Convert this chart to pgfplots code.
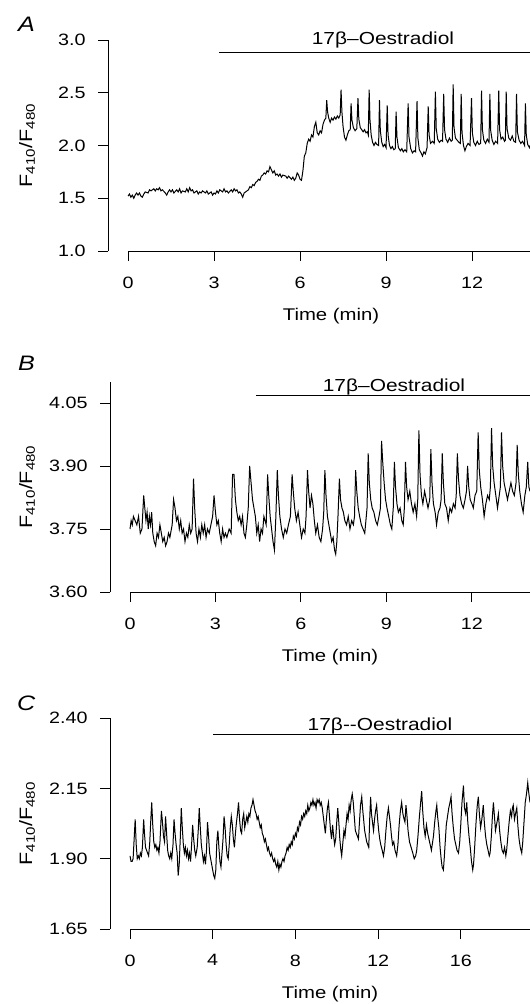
\documentclass[border=0pt]{standalone}
\usepackage{pgfplots}
\pgfplotsset{compat=1.18}
\usetikzlibrary{calc}
\usepackage{fontspec}
\setmainfont{Liberation Sans}[FakeStretch=1.2]

\pgfplotsset{
  panel/.style={
    scale only axis,
    anchor=south west,
    axis lines=left,
    axis line style={-, line width=0.9bp, black},
    x axis line style={draw=none},
    tick align=outside,
    major tick length=10bp,
    tick style={line width=0.9bp, black},
    minor tick num=0,
    clip=false,
    /pgf/number format/assume math mode=true,
    tick label style={font=\fontsize{16.5}{19}\selectfont},
    xticklabel style={yshift=-12bp},
    yticklabel style={xshift=-9bp},
    label style={font=\fontsize{17}{20}\selectfont},
    ylabel style={font=\fontsize{18}{21}\selectfont},
    trace/.style={black, line width=1bp, mark=none},
    bar/.style={black, line width=1.1bp, mark=none},
  },
}

\begin{document}
\begin{tikzpicture}
\path[use as bounding box] (0,0) rectangle (530bp,-1004bp);
\fill[white] (0,0) rectangle (530bp,-1004bp);

% ---------------- Panel A ----------------
\begin{axis}[panel,
  at={(108bp,-251bp)}, width=422bp, height=211bp,
  xmin=-0.698, xmax=14.02, ymin=1, ymax=3,
  xtick={0,3,6,9,12}, ytick={1,1.5,2,2.5,3},
  yticklabel style={/pgf/number format/.cd,fixed,fixed zerofill,precision=1},
  xlabel={Time (min)},
  xlabel style={at={(axis cs:7.08,1)}, anchor=base, yshift=-69bp},
  ylabel={F\textsubscript{410}/F\textsubscript{480}},
  ylabel style={at={($(rel axis cs:0,0.5)+(-81bp,0)$)}, anchor=center},
]
\draw[line width=0.9bp] (axis cs:0,1) -- (axis cs:14.02,1);
\addplot[bar] coordinates {(3.17,2.88) (14.02,2.88)};
\addplot[trace] coordinates {
(0.00,1.52) (0.05,1.54) (0.10,1.51) (0.15,1.53) (0.20,1.50) (0.25,1.53) (0.30,1.55) (0.35,1.53) (0.40,1.55) (0.45,1.52)
(0.50,1.51) (0.55,1.54) (0.60,1.56) (0.70,1.55) (0.75,1.58) (0.80,1.57) (0.90,1.59) (0.95,1.57) (1.00,1.59) (1.05,1.58)
(1.10,1.60) (1.15,1.57) (1.20,1.58) (1.30,1.55) (1.35,1.53) (1.40,1.56) (1.45,1.58) (1.50,1.56) (1.55,1.58) (1.60,1.55)
(1.70,1.58) (1.75,1.56) (1.80,1.59) (1.85,1.55) (1.90,1.57) (2.00,1.56) (2.05,1.59) (2.10,1.56) (2.15,1.60) (2.20,1.57)
(2.25,1.58) (2.30,1.55) (2.40,1.57) (2.45,1.54) (2.50,1.56) (2.55,1.55) (2.60,1.57) (2.70,1.55) (2.75,1.57) (2.80,1.54)
(2.90,1.56) (2.95,1.53) (3.00,1.55) (3.05,1.54) (3.10,1.57) (3.15,1.55) (3.20,1.58) (3.30,1.56) (3.35,1.59) (3.40,1.56)
(3.45,1.57) (3.50,1.55) (3.60,1.58) (3.65,1.56) (3.70,1.59) (3.75,1.57) (3.80,1.58) (3.85,1.55) (3.90,1.56) (3.95,1.54)
(4.00,1.51) (4.05,1.55) (4.10,1.56) (4.20,1.58) (4.25,1.61) (4.30,1.60) (4.35,1.63) (4.40,1.62) (4.45,1.65) (4.50,1.66)
(4.55,1.68) (4.60,1.67) (4.65,1.71) (4.70,1.72) (4.75,1.74) (4.80,1.73) (4.85,1.76) (4.90,1.75) (4.95,1.80) (5.00,1.77)
(5.05,1.74) (5.10,1.76) (5.15,1.72) (5.20,1.73) (5.25,1.71) (5.30,1.73) (5.35,1.70) (5.40,1.72) (5.50,1.71) (5.55,1.69)
(5.60,1.71) (5.70,1.68) (5.75,1.70) (5.80,1.67) (5.85,1.69) (5.90,1.74) (5.95,1.72) (6.00,1.68) (6.05,1.67) (6.10,1.76)
(6.15,1.90) (6.20,1.93) (6.25,2.02) (6.30,2.06) (6.35,2.04) (6.40,2.10) (6.45,2.08) (6.50,2.18) (6.55,2.22) (6.60,2.12)
(6.65,2.10) (6.70,2.14) (6.75,2.12) (6.80,2.20) (6.85,2.24) (6.90,2.26) (6.93,2.43) (6.96,2.32) (7.00,2.26) (7.05,2.22)
(7.10,2.26) (7.15,2.24) (7.20,2.27) (7.25,2.25) (7.30,2.28) (7.35,2.26) (7.40,2.29) (7.43,2.53) (7.46,2.32) (7.50,2.18)
(7.55,2.08) (7.60,2.05) (7.65,2.10) (7.70,2.14) (7.75,2.15) (7.78,2.40) (7.81,2.24) (7.86,2.17) (7.92,2.14) (7.98,2.16)
(8.02,2.45) (8.05,2.25) (8.10,2.17) (8.15,2.15) (8.20,2.13) (8.25,2.15) (8.30,2.12) (8.35,2.13) (8.38,2.10) (8.41,2.53)
(8.44,2.24) (8.48,2.10) (8.53,2.03) (8.58,2.00) (8.63,2.03) (8.68,2.01) (8.74,2.00) (8.77,2.43) (8.80,2.14) (8.85,2.03)
(8.90,1.99) (8.95,2.01) (9.00,1.98) (9.04,2.38) (9.07,2.10) (9.12,2.00) (9.17,1.97) (9.22,1.99) (9.27,1.96) (9.32,1.97)
(9.35,2.32) (9.38,2.08) (9.43,1.98) (9.50,1.95) (9.55,1.97) (9.60,1.94) (9.66,1.96) (9.72,1.94) (9.77,2.40) (9.80,2.08)
(9.86,1.97) (9.92,1.93) (9.98,1.95) (10.03,1.94) (10.08,2.42) (10.11,2.07) (10.16,1.96) (10.22,1.93) (10.27,1.90) (10.32,1.94)
(10.37,1.92) (10.43,1.98) (10.47,2.37) (10.50,2.10) (10.55,2.02) (10.62,2.04) (10.68,2.02) (10.72,2.51) (10.75,2.16) (10.80,2.06)
(10.86,2.03) (10.92,2.05) (10.97,2.04) (11.01,2.49) (11.04,2.15) (11.09,2.06) (11.15,2.03) (11.21,2.07) (11.27,2.04) (11.31,2.05)
(11.34,2.58) (11.37,2.17) (11.42,2.07) (11.48,2.05) (11.54,2.03) (11.59,2.02) (11.62,2.49) (11.65,2.12) (11.70,2.00) (11.75,1.95)
(11.80,1.99) (11.86,2.02) (11.93,2.00) (11.98,2.45) (12.01,2.12) (12.06,2.03) (12.12,2.00) (12.18,2.04) (12.24,2.01) (12.30,2.02)
(12.33,2.52) (12.36,2.15) (12.41,2.05) (12.47,2.02) (12.53,2.06) (12.59,2.03) (12.62,2.49) (12.65,2.14) (12.70,2.05) (12.76,2.01)
(12.82,2.04) (12.89,2.02) (12.93,2.52) (12.96,2.15) (13.01,2.06) (13.07,2.08) (13.13,2.04) (13.16,2.05) (13.19,2.51) (13.22,2.16)
(13.28,2.07) (13.34,2.05) (13.40,2.09) (13.46,2.04) (13.52,2.03) (13.55,2.49) (13.58,2.13) (13.64,2.05) (13.70,2.02) (13.76,2.04)
(13.83,2.00) (13.86,2.40) (13.89,2.10) (13.94,2.01) (14.00,1.98) (14.02,2.00)
};
\end{axis}

% ---------------- Panel B ----------------
\begin{axis}[panel,
  at={(110bp,-592bp)}, width=420bp, height=210bp,
  xmin=-0.702, xmax=14.04, ymin=3.60, ymax=4.10,
  xtick={0,3,6,9,12}, ytick={3.60,3.75,3.90,4.05},
  yticklabel style={/pgf/number format/.cd,fixed,fixed zerofill,precision=2},
  xlabel={Time (min)},
  xlabel style={at={(axis cs:7.02,3.60)}, anchor=base, yshift=-69bp},
  ylabel={F\textsubscript{410}/F\textsubscript{480}},
  ylabel style={at={($(rel axis cs:0,0.5)+(-83bp,0)$)}, anchor=center},
]
\draw[line width=0.9bp] (axis cs:0,3.60) -- (axis cs:14.04,3.60);
\addplot[bar] coordinates {(4.42,4.067) (14.04,4.067)};
\addplot[trace] coordinates {
(0.00,3.75) (0.04,3.77) (0.08,3.76) (0.12,3.78) (0.18,3.77) (0.24,3.76) (0.30,3.78) (0.36,3.74) (0.42,3.75) (0.48,3.83)
(0.52,3.80) (0.56,3.77) (0.60,3.79) (0.64,3.75) (0.68,3.78) (0.72,3.76) (0.76,3.79) (0.80,3.74) (0.85,3.72) (0.90,3.71)
(0.95,3.74) (1.00,3.73) (1.05,3.76) (1.10,3.74) (1.15,3.72) (1.20,3.73) (1.25,3.71) (1.30,3.72) (1.35,3.74) (1.40,3.73)
(1.48,3.76) (1.53,3.82) (1.58,3.80) (1.63,3.77) (1.68,3.78) (1.73,3.75) (1.78,3.77) (1.83,3.74) (1.88,3.75) (1.93,3.72)
(1.98,3.74) (2.03,3.73) (2.08,3.76) (2.13,3.74) (2.18,3.75) (2.23,3.87) (2.27,3.80) (2.32,3.74) (2.37,3.72) (2.42,3.75)
(2.47,3.73) (2.52,3.76) (2.57,3.74) (2.62,3.76) (2.67,3.73) (2.72,3.75) (2.78,3.74) (2.84,3.76) (2.90,3.78) (2.95,3.83)
(3.00,3.79) (3.05,3.76) (3.10,3.77) (3.15,3.74) (3.20,3.72) (3.25,3.75) (3.30,3.73) (3.35,3.74) (3.40,3.73) (3.48,3.75)
(3.55,3.74) (3.60,3.88) (3.65,3.88) (3.70,3.82) (3.75,3.79) (3.80,3.77) (3.85,3.78) (3.90,3.76) (3.95,3.78) (4.00,3.74)
(4.05,3.73) (4.10,3.76) (4.15,3.80) (4.20,3.90) (4.25,3.86) (4.30,3.82) (4.35,3.80) (4.40,3.78) (4.45,3.74) (4.50,3.76)
(4.55,3.72) (4.60,3.75) (4.65,3.74) (4.70,3.78) (4.78,3.76) (4.83,3.88) (4.87,3.83) (4.92,3.78) (4.97,3.75) (5.02,3.72)
(5.07,3.70) (5.12,3.78) (5.17,3.89) (5.21,3.83) (5.26,3.78) (5.32,3.75) (5.38,3.73) (5.44,3.75) (5.50,3.74) (5.56,3.76)
(5.63,3.78) (5.69,3.88) (5.73,3.84) (5.78,3.80) (5.84,3.77) (5.90,3.79) (5.96,3.76) (6.02,3.73) (6.08,3.75) (6.14,3.74)
(6.18,3.78) (6.23,3.89) (6.27,3.84) (6.32,3.80) (6.37,3.83) (6.42,3.81) (6.47,3.77) (6.52,3.74) (6.58,3.76) (6.64,3.73)
(6.70,3.72) (6.76,3.75) (6.80,3.79) (6.84,3.89) (6.88,3.83) (6.93,3.78) (6.98,3.76) (7.03,3.74) (7.08,3.72) (7.13,3.73)
(7.18,3.70) (7.22,3.69) (7.26,3.72) (7.30,3.78) (7.35,3.87) (7.39,3.82) (7.44,3.80) (7.49,3.79) (7.54,3.77) (7.60,3.76)
(7.66,3.78) (7.72,3.75) (7.78,3.77) (7.84,3.76) (7.88,3.78) (7.92,3.89) (7.96,3.84) (8.01,3.80) (8.06,3.78) (8.12,3.76)
(8.18,3.75) (8.24,3.74) (8.28,3.77) (8.32,3.80) (8.36,3.93) (8.40,3.86) (8.45,3.82) (8.50,3.80) (8.56,3.79) (8.62,3.77)
(8.68,3.76) (8.74,3.78) (8.79,3.80) (8.83,3.96) (8.87,3.91) (8.92,3.86) (8.97,3.82) (9.02,3.80) (9.08,3.78) (9.14,3.76)
(9.19,3.75) (9.24,3.80) (9.28,3.91) (9.32,3.85) (9.37,3.81) (9.42,3.79) (9.48,3.80) (9.54,3.77) (9.59,3.76) (9.63,3.80)
(9.67,3.91) (9.71,3.85) (9.76,3.82) (9.82,3.84) (9.88,3.81) (9.94,3.79) (10.00,3.81) (10.06,3.78) (10.10,3.82) (10.14,3.985)
(10.18,3.88) (10.23,3.83) (10.28,3.81) (10.34,3.84) (10.40,3.82) (10.46,3.80) (10.52,3.82) (10.56,3.94) (10.60,3.86) (10.65,3.81)
(10.71,3.79) (10.76,3.76) (10.82,3.79) (10.88,3.80) (10.92,3.82) (10.96,3.93) (11.00,3.86) (11.05,3.81) (11.11,3.80) (11.17,3.77)
(11.23,3.80) (11.29,3.79) (11.35,3.81) (11.41,3.80) (11.45,3.83) (11.49,3.93) (11.53,3.87) (11.58,3.83) (11.64,3.81) (11.70,3.80)
(11.76,3.82) (11.81,3.84) (11.85,3.90) (11.89,3.85) (11.94,3.82) (12.00,3.81) (12.05,3.80) (12.11,3.83) (12.17,3.84) (12.22,3.98)
(12.26,3.89) (12.31,3.85) (12.37,3.82) (12.43,3.78) (12.49,3.81) (12.55,3.83) (12.61,3.82) (12.65,3.85) (12.69,3.99) (12.73,3.90)
(12.78,3.86) (12.84,3.83) (12.90,3.80) (12.96,3.83) (13.00,3.85) (13.04,3.98) (13.08,3.90) (13.13,3.86) (13.19,3.84) (13.25,3.82)
(13.31,3.84) (13.37,3.86) (13.43,3.84) (13.49,3.83) (13.55,3.86) (13.59,3.95) (13.63,3.88) (13.68,3.84) (13.74,3.81) (13.80,3.79)
(13.86,3.83) (13.91,3.85) (13.96,3.91) (14.00,3.85) (14.04,3.84)
};
\end{axis}

% ---------------- Panel C ----------------
\begin{axis}[panel,
  at={(110bp,-929bp)}, width=420bp, height=211bp,
  xmin=-0.968, xmax=19.35, ymin=1.65, ymax=2.40,
  xtick={0,4,8,12,16}, ytick={1.65,1.90,2.15,2.40},
  yticklabel style={/pgf/number format/.cd,fixed,fixed zerofill,precision=2},
  xlabel={Time (min)},
  xlabel style={at={(axis cs:9.68,1.65)}, anchor=base, yshift=-69bp},
  ylabel={F\textsubscript{410}/F\textsubscript{480}},
  ylabel style={at={($(rel axis cs:0,0.5)+(-83bp,0)$)}, anchor=center},
]
\draw[line width=0.9bp] (axis cs:0,1.65) -- (axis cs:19.35,1.65);
\addplot[bar] coordinates {(4.03,2.34) (19.35,2.34)};
\addplot[trace] coordinates {
(0.00,1.91) (0.05,1.89) (0.10,1.89) (0.15,1.90) (0.20,1.97) (0.25,2.04) (0.30,1.95) (0.35,1.90) (0.40,1.91) (0.45,1.90)
(0.50,1.92) (0.55,1.91) (0.60,1.94) (0.66,2.04) (0.70,1.99) (0.75,1.94) (0.80,1.93) (0.85,1.92) (0.90,1.91) (0.95,1.95)
(1.00,2.03) (1.05,2.10) (1.10,2.02) (1.15,1.96) (1.20,1.94) (1.25,1.95) (1.30,1.93) (1.35,1.94) (1.40,1.92) (1.45,1.96)
(1.52,2.07) (1.57,2.03) (1.62,1.98) (1.67,1.96) (1.72,2.05) (1.77,1.99) (1.82,1.93) (1.87,1.91) (1.92,1.90) (1.97,1.92)
(2.02,1.90) (2.08,1.95) (2.13,2.04) (2.18,1.99) (2.23,1.95) (2.28,1.92) (2.33,1.84) (2.38,1.88) (2.43,1.97) (2.48,2.08)
(2.53,2.01) (2.58,1.95) (2.63,1.92) (2.68,1.94) (2.73,1.91) (2.78,1.93) (2.83,1.90) (2.88,1.92) (2.93,1.89) (2.98,1.95)
(3.03,2.02) (3.08,1.97) (3.13,1.93) (3.18,1.91) (3.25,1.94) (3.30,2.00) (3.35,2.08) (3.40,2.01) (3.45,1.95) (3.50,1.92)
(3.55,1.89) (3.60,1.91) (3.65,1.88) (3.70,1.93) (3.75,2.03) (3.80,1.98) (3.85,1.92) (3.90,1.90) (3.95,1.88) (4.00,1.86)
(4.05,1.84) (4.10,1.83) (4.15,1.86) (4.20,1.96) (4.25,2.00) (4.30,1.94) (4.35,1.89) (4.40,1.87) (4.45,1.92) (4.50,1.97)
(4.55,2.05) (4.60,2.01) (4.65,1.95) (4.70,1.91) (4.75,1.90) (4.80,1.95) (4.85,2.01) (4.90,2.05) (4.95,2.02) (5.00,1.97)
(5.05,1.94) (5.10,1.99) (5.15,2.03) (5.20,2.06) (5.25,2.10) (5.30,2.04) (5.35,2.00) (5.40,1.99) (5.45,2.04) (5.50,2.06)
(5.55,2.01) (5.60,2.03) (5.65,2.05) (5.70,2.03) (5.75,2.06) (5.80,2.05) (5.85,2.08) (5.90,2.09) (5.95,2.11) (6.00,2.09)
(6.05,2.07) (6.10,2.06) (6.15,2.04) (6.20,2.05) (6.25,2.03) (6.30,2.01) (6.35,2.02) (6.40,1.99) (6.45,1.98) (6.50,1.96)
(6.55,1.97) (6.60,1.95) (6.65,1.93) (6.70,1.94) (6.75,1.92) (6.80,1.91) (6.85,1.92) (6.90,1.90) (6.95,1.89) (7.00,1.90)
(7.05,1.88) (7.10,1.87) (7.15,1.89) (7.20,1.86) (7.25,1.88) (7.30,1.87) (7.35,1.89) (7.40,1.90) (7.45,1.89) (7.50,1.91)
(7.55,1.92) (7.60,1.94) (7.65,1.93) (7.70,1.95) (7.75,1.94) (7.80,1.96) (7.85,1.95) (7.90,1.98) (7.95,1.97) (8.00,1.99)
(8.05,1.98) (8.10,2.01) (8.15,2.00) (8.20,2.03) (8.25,2.02) (8.30,2.05) (8.35,2.04) (8.40,2.06) (8.45,2.05) (8.50,2.07)
(8.55,2.06) (8.60,2.09) (8.65,2.07) (8.70,2.08) (8.75,2.10) (8.80,2.09) (8.85,2.11) (8.90,2.09) (8.95,2.10) (9.00,2.08)
(9.05,2.11) (9.10,2.10) (9.15,2.11) (9.20,2.09) (9.25,2.10) (9.30,2.08) (9.35,2.05) (9.40,2.02) (9.45,1.99) (9.50,2.04)
(9.55,2.08) (9.60,2.10) (9.65,2.05) (9.70,2.00) (9.75,1.97) (9.80,2.02) (9.85,1.98) (9.90,1.95) (9.95,1.97) (10.00,2.03)
(10.05,2.08) (10.10,2.03) (10.15,1.97) (10.20,1.93) (10.24,1.91) (10.30,1.96) (10.35,2.00) (10.40,1.98) (10.45,2.02) (10.50,2.06)
(10.55,2.04) (10.60,2.09) (10.65,2.07) (10.70,2.11) (10.75,2.13) (10.80,2.10) (10.85,2.05) (10.90,2.00) (10.95,1.99) (11.00,1.98)
(11.05,1.97) (11.10,2.03) (11.15,2.09) (11.21,2.12) (11.25,2.08) (11.30,2.04) (11.35,2.00) (11.40,1.98) (11.45,1.96) (11.50,1.95)
(11.55,1.94) (11.60,2.05) (11.64,2.12) (11.68,2.06) (11.73,2.03) (11.78,2.00) (11.83,2.04) (11.88,2.07) (11.93,2.09) (11.98,2.04)
(12.03,2.00) (12.08,1.97) (12.13,1.95) (12.20,1.93) (12.26,1.91) (12.32,1.94) (12.38,2.00) (12.44,2.05) (12.50,2.08) (12.55,2.05)
(12.60,2.02) (12.65,1.98) (12.70,1.95) (12.76,1.96) (12.82,1.93) (12.90,1.91) (12.96,1.95) (13.02,2.02) (13.08,2.07) (13.14,2.10)
(13.20,2.06) (13.26,2.04) (13.30,2.03) (13.35,2.09) (13.40,2.05) (13.45,2.00) (13.52,1.96) (13.60,1.94) (13.68,1.92) (13.75,1.90)
(13.82,1.91) (13.87,1.93) (13.93,1.98) (14.00,2.05) (14.06,2.10) (14.11,2.14) (14.16,2.07) (14.22,2.01) (14.28,1.98) (14.34,2.02)
(14.40,1.99) (14.46,1.97) (14.52,1.95) (14.58,1.93) (14.62,1.95) (14.68,1.98) (14.74,2.03) (14.80,2.07) (14.84,2.09) (14.88,2.05)
(14.94,2.01) (15.00,1.94) (15.05,1.90) (15.10,1.87) (15.16,1.86) (15.20,1.90) (15.25,1.96) (15.30,2.02) (15.36,2.05) (15.42,2.08)
(15.48,2.10) (15.53,2.12) (15.58,2.06) (15.64,2.01) (15.70,1.97) (15.76,1.95) (15.82,1.93) (15.89,1.92) (15.95,1.96) (16.00,2.02)
(16.06,2.10) (16.13,2.16) (16.18,2.08) (16.24,2.06) (16.29,2.10) (16.34,2.03) (16.40,1.98) (16.46,1.94) (16.52,1.89) (16.58,1.86)
(16.62,1.88) (16.68,1.95) (16.74,2.03) (16.80,2.09) (16.85,2.12) (16.90,2.06) (16.96,2.01) (17.02,2.04) (17.09,2.09) (17.14,2.03)
(17.20,1.98) (17.26,1.95) (17.32,1.93) (17.38,1.91) (17.42,1.92) (17.48,1.98) (17.53,2.05) (17.58,2.10) (17.63,2.05) (17.68,2.00)
(17.73,2.02) (17.78,2.04) (17.82,2.06) (17.88,2.00) (17.94,1.96) (18.00,1.93) (18.06,1.92) (18.12,1.94) (18.18,1.91) (18.22,1.93)
(18.28,1.98) (18.34,2.03) (18.40,2.07) (18.46,2.05) (18.50,2.08) (18.54,2.09) (18.60,2.04) (18.65,2.06) (18.71,2.08) (18.76,2.02)
(18.82,1.97) (18.88,1.94) (18.95,1.92) (19.00,1.96) (19.06,2.03) (19.12,2.10) (19.18,2.13) (19.24,2.17) (19.28,2.14) (19.35,2.10)
};
\end{axis}

% titles and panel letters
\node[anchor=base, font=\fontsize{17.5}{20}\selectfont] at (383bp,-44bp) {17β–Oestradiol};
\node[anchor=base, font=\fontsize{17.5}{20}\selectfont] at (394bp,-391bp) {17β–Oestradiol};
\node[anchor=base, font=\fontsize{17.5}{20}\selectfont] at (380bp,-730bp) {17β-{}-Oestradiol};
\node[anchor=base west, inner sep=0pt, font=\itshape\fontsize{21}{24}\selectfont] at (18bp,-31.7bp) {A};
\node[anchor=base west, inner sep=0pt, font=\itshape\fontsize{21}{24}\selectfont] at (18bp,-370bp) {B};
\node[anchor=base west, inner sep=0pt, font=\itshape\fontsize{21}{24}\selectfont] at (17bp,-710bp) {C};
\end{tikzpicture}
\end{document}
